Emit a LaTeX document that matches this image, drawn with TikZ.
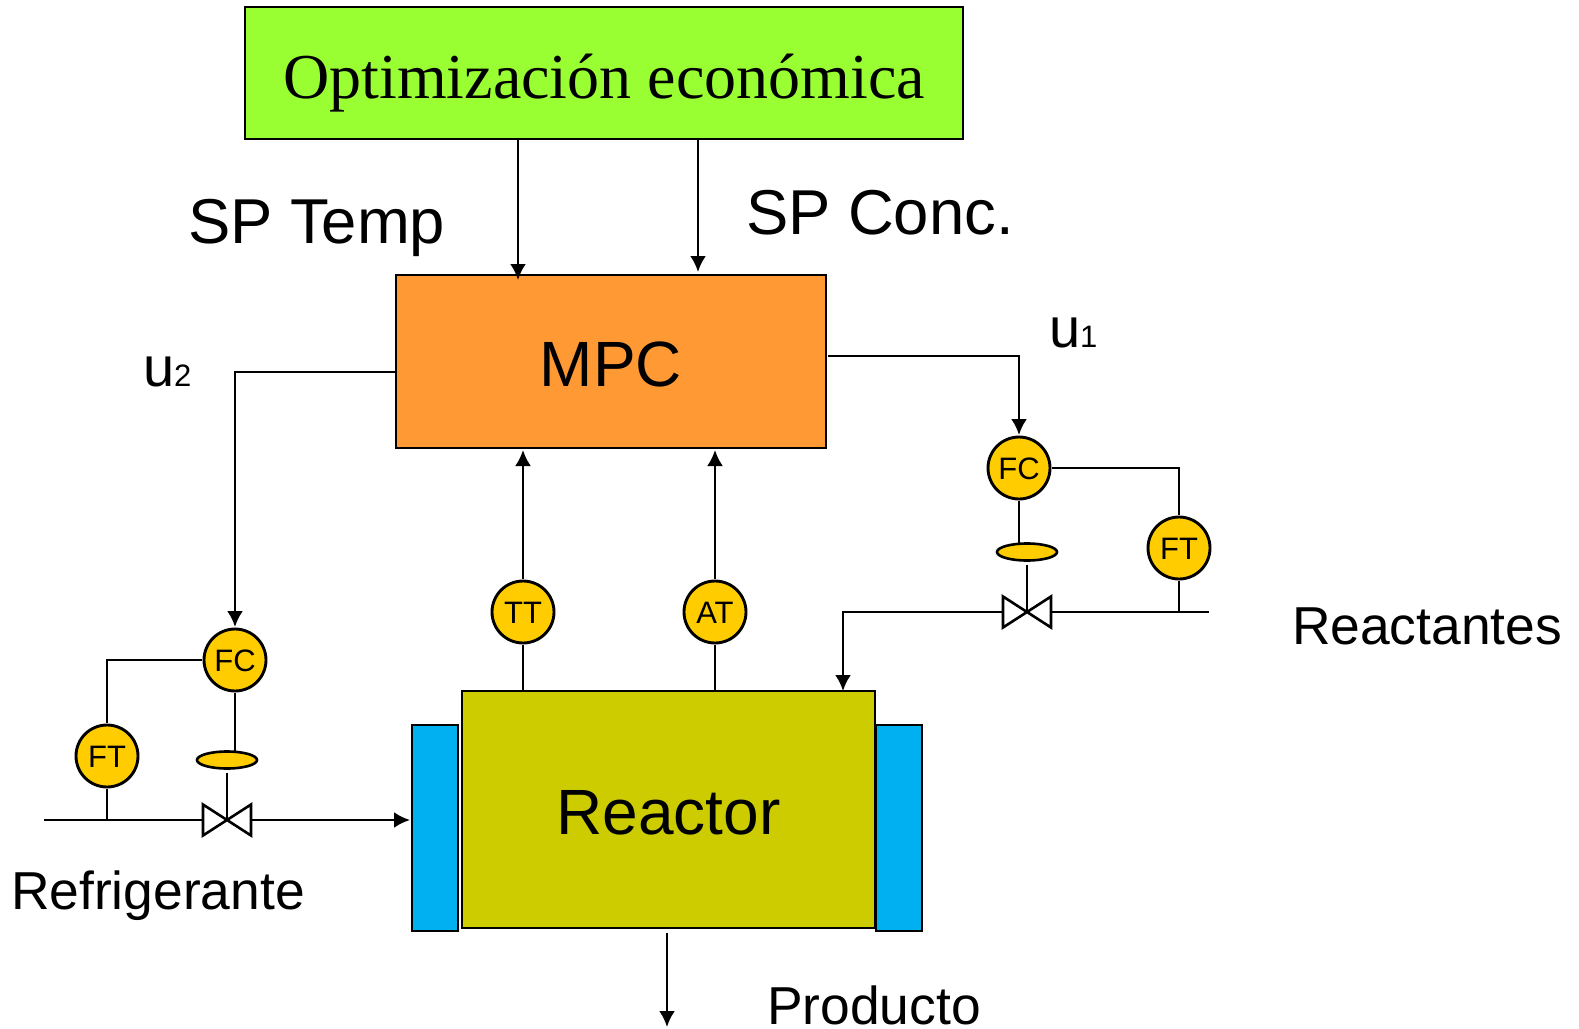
\documentclass[tikz,border=0pt]{standalone}
\usepackage{fontspec}
\setmainfont{Liberation Sans}
\newfontfamily\titlefont{Liberation Serif}
\usetikzlibrary{arrows.meta,shapes.geometric}
\definecolor{verde}{HTML}{99FF33}
\definecolor{naranja}{HTML}{FF9933}
\definecolor{oliva}{HTML}{CCCC00}
\definecolor{celeste}{HTML}{00B0F0}
\definecolor{amarillo}{HTML}{FFCC00}
\tikzset{
  >={Latex[length=8pt,width=8pt]},
  linea/.style={line width=1.3pt},
  caja/.style={draw,line width=1.45pt,inner sep=0pt,outer sep=0pt},
  instr/.style={circle,draw,line width=1.45pt,fill=amarillo,minimum size=31pt,inner sep=0pt,outer sep=1pt,text height=11.6pt,text depth=0pt,font=\fontsize{15.5}{15.5}\selectfont},
  actuador/.style={ellipse,draw,line width=1.3pt,fill=amarillo,minimum width=30pt,minimum height=8.5pt,inner sep=0pt,outer sep=0pt},
  valvula/.style={minimum width=24pt,minimum height=15.5pt,inner sep=0pt,outer sep=0pt},
  grande/.style={font=\fontsize{32}{32}\selectfont},
  texto/.style={anchor=base west,inner sep=0pt,outer sep=0pt,font=\fontsize{26.7}{26.7}\selectfont},
  rotulo/.style={texto,font=\fontsize{31.7}{31.7}\selectfont},
}
\newcommand{\uvar}[1]{\fontsize{28}{28}\selectfont u{\fontsize{15.5}{15.5}\selectfont #1}}
\begin{document}
\begin{tikzpicture}[x=0.5pt,y=-0.5pt]
\useasboundingbox (0,0) rectangle (1579,1028);
\node[caja,fill=verde,minimum width=359pt,minimum height=66pt,text height=32pt,text depth=7pt,font=\titlefont\fontsize{32}{32}\selectfont] (opt) at (604,73) {Optimización económica};
\node[caja,fill=naranja,minimum width=215pt,minimum height=86.5pt,text height=25.4pt,text depth=0.5pt,grande] (mpc) at (611,361.5) {MPC};
\node[caja,fill=celeste,minimum width=23pt,minimum height=103pt] (camL) at (435,828) {};
\node[caja,fill=celeste,minimum width=23pt,minimum height=103pt] (camR) at (899,828) {};
\node[caja,fill=oliva,minimum width=206.5pt,minimum height=118.5pt,text height=24.9pt,text depth=0.4pt,grande] (reactor) at (668.5,809.5) {Reactor};
\node[instr] (tt) at (523,612) {TT};
\node[instr] (at) at (715,612) {AT};
\node[instr] (fcR) at (1019,468) {FC};
\node[instr] (ftR) at (1179,548) {FT};
\node[instr] (fcL) at (235,660) {FC};
\node[instr] (ftL) at (107,756) {FT};
\node[actuador] (actR) at (1027,552) {};
\node[actuador] (actL) at (227,760) {};
\node[valvula] (valR) at (1027,612) {};
\node[valvula] (valL) at (227,820) {};
\foreach \v in {valR,valL}
  \draw[linea] (\v.south west) -- (\v.north west) -- (\v.south east) -- (\v.north east) -- cycle;
\coordinate (spT) at (518,200);
\coordinate (spC) at (698,200);
\coordinate (salU1) at (1019,356);
\coordinate (salU2) at (235,372);
\coordinate (codoR) at (843,612);
\coordinate (finR) at (1209,612);
\coordinate (iniL) at (44,820);
\coordinate (prodA) at (667,933);
\coordinate (prodB) at (667,1027);
\draw[linea,->,shorten >=-2.5pt] (spT |- opt.south) -- (spT |- mpc.north);
\draw[linea,->,shorten >=1.5pt] (spC |- opt.south) -- (spC |- mpc.north);
\draw[linea,->,shorten <=1pt] (mpc.east |- salU1) -- (salU1) -- (fcR.north);
\draw[linea,->] (mpc.west |- salU2) -- (salU2) -- (fcL.north);
\draw[linea,->,shorten >=1pt] (tt.north) -- (tt.north |- mpc.south);
\draw[linea,->,shorten >=1pt] (at.north) -- (at.north |- mpc.south);
\draw[linea] (tt.south) -- (tt.south |- reactor.north);
\draw[linea] (at.south) -- (at.south |- reactor.north);
\draw[linea] (fcR.east) -| (ftR.north);
\draw[linea] (fcR.south) -- (fcR.south |- actR.north);
\draw[linea,shorten <=2pt] (actR.south) -- (valR.center);
\draw[linea] (ftR.south) -- (ftR.south |- finR);
\draw[linea] (valR.east) -- (finR);
\draw[linea,->] (valR.west) -- (codoR) -- (codoR |- reactor.north);
\draw[linea] (fcL.west) -| (ftL.north);
\draw[linea] (fcL.south) -- (fcL.south |- actL.north);
\draw[linea,shorten <=2pt] (actL.south) -- (valL.center);
\draw[linea] (ftL.south) -- (ftL.south |- iniL);
\draw[linea] (iniL) -- (valL.west);
\draw[linea,->,shorten >=1pt] (valL.east) -- (valL.east -| camL.west);
\draw[linea,->] (prodA) -- (prodB);
\node[rotulo] (tSpT) at (188,243) {SP Temp};
\node[rotulo] (tSpC) at (746,234) {SP Conc.};
\node[texto] (tU1) at (1049,347) {\uvar{1}};
\node[texto] (tU2) at (143,386) {\uvar{2}};
\node[texto] (tReac) at (1292,644) {Reactantes};
\node[texto] (tRefr) at (11,909) {Refrigerante};
\node[texto] (tProd) at (767,1024) {Producto};
\end{tikzpicture}
\end{document}
